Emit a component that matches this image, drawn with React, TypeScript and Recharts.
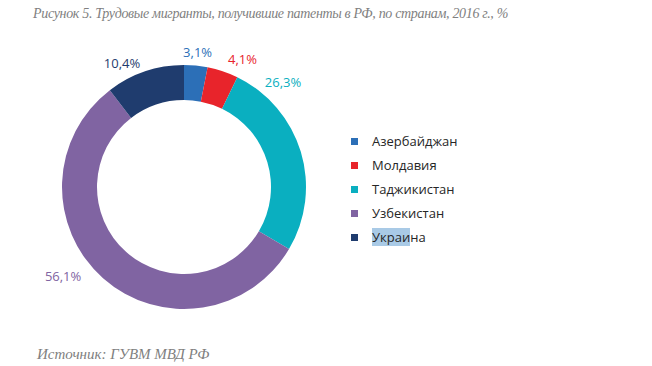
import { PieChart, Pie, Cell, Legend } from "recharts";

const countries = ["Азербайджан", "Молдавия", "Таджикистан", "Узбекистан", "Украина"];
const shares = [3.1, 4.1, 26.3, 56.1, 10.4];
const colors = ["#2C6FB7", "#E8242B", "#0AAFC0", "#8064A2", "#1F3C6E"];

const titleText = "Рисунок 5. Трудовые мигранты, получившие патенты в РФ, по странам, 2016 г., %";
const sourceText = "Источник: ГУВМ МВД РФ";

// label placement tweaks relative to the slice's mid angle (Excel puts them oddly)
const labelNudge: [number, number][] = [
  [0, 4],
  [14, 5],
  [-35, -65],
  [-28, -16],
  [-17, 9],
];

const data = countries.map((name, i) => ({ name, value: shares[i] }));

const RADIAN = Math.PI / 180;

const renderLabel = (props: any) => {
  const { cx, cy, midAngle, outerRadius, index, value } = props;
  const r = outerRadius + 18;
  const [dx, dy] = labelNudge[index];
  const x = cx + r * Math.cos(-midAngle * RADIAN) + dx;
  const y = cy + r * Math.sin(-midAngle * RADIAN) + dy;
  return (
    <text
      x={x}
      y={y}
      fill={colors[index]}
      textAnchor="middle"
      dominantBaseline="central"
      fontSize={13}
      fontFamily="'Open Sans', sans-serif"
    >
      {value.toFixed(1).replace(".", ",")}%
    </text>
  );
};

const LegendBox = () => (
  <div style={{ fontFamily: "'Open Sans', sans-serif", fontSize: 13, color: "#262626" }}>
    {countries.map((c, i) => (
      <div key={c} style={{ display: "flex", alignItems: "center", height: 24 }}>
        <span style={{ width: 7, height: 7, background: colors[i], marginRight: 14, display: "inline-block" }} />
        {c === "Украина" ? (
          <span>
            <span style={{ background: "#A9CAE6" }}>Украи</span>на
          </span>
        ) : (
          <span>{c}</span>
        )}
      </div>
    ))}
  </div>
);

export default function App() {
  return (
    <div style={{ position: "absolute", left: 0, top: 0, width: 652, height: 366, background: "#fff" }}>
      <div
        style={{
          position: "absolute",
          left: 33,
          top: 7,
          fontFamily: "'Liberation Serif', serif",
          fontStyle: "italic",
          fontSize: 14,
          letterSpacing: -0.33,
          color: "#7f7f7f",
          whiteSpace: "nowrap",
          lineHeight: 1,
        }}
      >
        {titleText}
      </div>
      <PieChart
        width={652}
        height={366}
        margin={{ top: 0, right: 0, bottom: 0, left: 0 }}
        style={{ position: "absolute", left: 0, top: 0 }}
      >
        <Pie
          data={data}
          dataKey="value"
          cx={184}
          cy={187}
          innerRadius={87}
          outerRadius={122}
          startAngle={90}
          endAngle={-270}
          stroke="none"
          label={renderLabel}
          labelLine={false}
          isAnimationActive={false}
        >
          {data.map((d, i) => (
            <Cell key={d.name} fill={colors[i]} />
          ))}
        </Pie>
        <Legend
          layout="vertical"
          content={<LegendBox />}
          wrapperStyle={{ left: 351, top: 129, width: 200 }}
        />
      </PieChart>
      <div
        style={{
          position: "absolute",
          left: 37,
          top: 347,
          fontFamily: "'Liberation Serif', serif",
          fontStyle: "italic",
          fontSize: 15,
          color: "#7f7f7f",
          whiteSpace: "nowrap",
          lineHeight: 1,
        }}
      >
        {sourceText}
      </div>
    </div>
  );
}
